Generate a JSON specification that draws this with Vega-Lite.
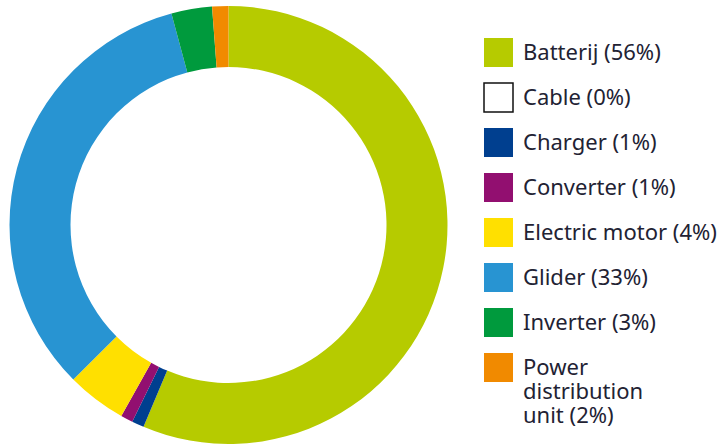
{
  "$schema": "https://vega.github.io/schema/vega-lite/v6.json",
  "width": 457,
  "height": 450,
  "padding": 0,
  "autosize": {"type": "pad"},
  "background": "white",
  "data": {
    "values": [
      {"name": "Batterij (56%)", "idx": 1, "value": 56.4},
      {"name": "Cable (0%)", "idx": 2, "value": 0},
      {"name": "Charger (1%)", "idx": 3, "value": 0.9},
      {"name": "Converter (1%)", "idx": 4, "value": 0.9},
      {"name": "Electric motor (4%)", "idx": 5, "value": 4.4},
      {"name": "Glider (33%)", "idx": 6, "value": 33.3},
      {"name": "Inverter (3%)", "idx": 7, "value": 3.0},
      {"name": "Power distribution unit (2%)", "idx": 8, "value": 1.2}
    ]
  },
  "mark": {"type": "arc", "outerRadius": 219, "innerRadius": 158},
  "encoding": {
    "theta": {"field": "value", "type": "quantitative", "stack": true},
    "order": {"field": "idx", "type": "quantitative"},
    "color": {
      "field": "name",
      "type": "nominal",
      "scale": {
        "domain": ["Batterij (56%)", "Cable (0%)", "Charger (1%)", "Converter (1%)", "Electric motor (4%)", "Glider (33%)", "Inverter (3%)", "Power distribution unit (2%)"],
        "range": ["#b6cb00", "#ffffff", "#003f8f", "#920f70", "#ffe000", "#2894d2", "#009a3d", "#f18a00"]
      },
      "legend": {
        "title": null,
        "orient": "none",
        "legendX": 483,
        "legendY": 37,
        "padding": 0,
        "symbolType": "square",
        "symbolSize": 841,
        "symbolStrokeWidth": 0,
        "symbolOpacity": 1,
        "labelOffset": 9,
        "rowPadding": 10,
        "labelFont": "Noto Sans",
        "labelFontSize": 22,
        "labelColor": "#222233",
        "labelLimit": 300,
        "labelExpr": "datum.label == 'Power distribution unit (2%)' ? ['Power', 'distribution', 'unit (2%)'] : datum.label",
        "labelLineHeight": 23,
        "encode": {
          "symbols": {
            "update": {
              "stroke": {"signal": "datum.value == 'Cable (0%)' ? '#111111' : 'transparent'"},
              "strokeWidth": {"value": 1.5}
            }
          }
        }
      }
    }
  },
  "config": {"view": {"stroke": null}}
}
